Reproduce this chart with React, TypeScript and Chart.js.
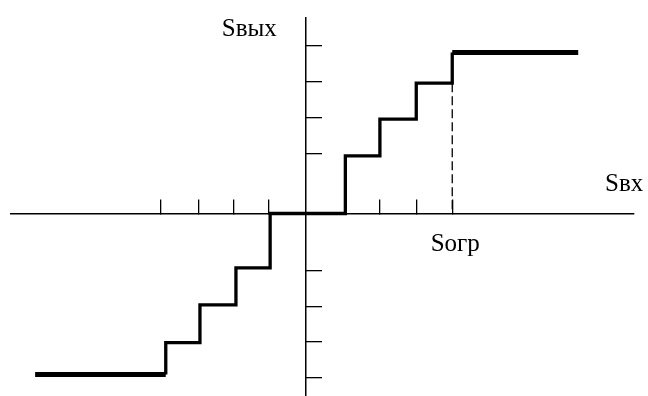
import React, { useEffect, useRef } from "react";
import { Chart, registerables } from "chart.js";

Chart.register(...registerables);

// Tick positions on the axes (in units of one quantisation step)
const xTicks = [-4.02, -2.99, -1.99, -1.02, 1.1, 2.06, 3.07, 4.07];
const yTicks = [-4.57, -3.57, -2.58, -1.6, 1.65, 2.65, 3.65, 4.65];

// Step characteristic: input values where the output jumps, and the new output level
const riseX = [-3.89, -2.94, -1.94, -0.99, 1.1, 2.06, 3.07, 4.07];
const levels = [-3.59, -2.54, -1.51, 0, 1.6, 2.62, 3.62, 4.47];

// Saturation parts
const satLow = -4.47;
const satHigh = 4.47;
const xStart = -7.52;
const xEnd = 7.57;

// Limit marker (dashed)
const limitX = 4.07;
const limitY = 3.62;

// Axis ranges
const xMin = -8.19;
const xMax = 9.12;
const yMin = -5.07;
const yMax = 5.43;

// Texts
const yTitle = "Sвых";
const xTitle = "Sвх";
const limitLabel = "Sогр";

const labelPlugin = {
  id: "axisLabels",
  afterDraw(chart: any) {
    const { ctx, chartArea, scales } = chart;
    const x0 = scales.x.getPixelForValue(0);
    const y0 = scales.y.getPixelForValue(0);
    ctx.save();
    ctx.fillStyle = "#000";
    ctx.font = "25px 'Liberation Serif', 'Times New Roman', serif";
    ctx.textBaseline = "alphabetic";
    ctx.textAlign = "right";
    ctx.fillText(yTitle, x0 - 29, chartArea.top + 18);
    ctx.textAlign = "left";
    ctx.fillText(xTitle, chartArea.right - 29, y0 - 22);
    ctx.textAlign = "center";
    ctx.fillText(limitLabel, scales.x.getPixelForValue(limitX) + 3, y0 + 38);
    ctx.restore();
  },
};

export default function App() {
  const ref = useRef<HTMLCanvasElement | null>(null);

  useEffect(() => {
    document.body.style.margin = "0";
    const canvas = ref.current;
    if (!canvas) return;

    const steps = [{ x: riseX[0], y: satLow }].concat(
      riseX.map((x, i) => ({ x, y: levels[i] }))
    );
    const lowSat = [
      { x: xStart, y: satLow },
      { x: riseX[0], y: satLow },
    ];
    const highSat = [
      { x: riseX[riseX.length - 1], y: satHigh },
      { x: xEnd, y: satHigh },
    ];
    const limitLine = [
      { x: limitX, y: limitY },
      { x: limitX, y: 0 },
    ];

    const common = {
      showLine: true,
      pointRadius: 0,
      borderColor: "#000",
      backgroundColor: "#000",
      fill: false,
      borderJoinStyle: "miter" as const,
      borderCapStyle: "butt" as const,
    };

    const chart = new Chart(canvas, {
      type: "scatter",
      data: {
        datasets: [
          { ...common, data: limitLine, borderWidth: 1.3, borderDash: [9, 4] },
          { ...common, data: steps, borderWidth: 3.3, stepped: "before" },
          { ...common, data: lowSat, borderWidth: 5 },
          { ...common, data: highSat, borderWidth: 5 },
        ],
      },
      plugins: [labelPlugin],
      options: {
        responsive: false,
        animation: false,
        devicePixelRatio: 1,
        layout: { padding: { left: 11, right: 14, top: 18, bottom: 0 } },
        plugins: {
          legend: { display: false },
          tooltip: { enabled: false },
          title: { display: false },
        },
        scales: {
          x: {
            type: "linear",
            min: xMin,
            max: xMax,
            position: { y: 0 },
            ticks: { display: false },
            grid: {
              drawOnChartArea: false,
              drawTicks: true,
              tickLength: -15,
              color: "#000",
              lineWidth: 1.3,
            },
            border: { display: true, color: "#000", width: 1.5 },
            afterBuildTicks: (s: any) => {
              s.ticks = xTicks.map((v) => ({ value: v }));
            },
          },
          y: {
            type: "linear",
            min: yMin,
            max: yMax,
            position: { x: 0 },
            ticks: { display: false },
            grid: {
              drawOnChartArea: false,
              drawTicks: true,
              tickLength: -17,
              color: "#000",
              lineWidth: 1.3,
            },
            border: { display: true, color: "#000", width: 1.5 },
            afterBuildTicks: (s: any) => {
              s.ticks = yTicks.map((v) => ({ value: v }));
            },
          },
        },
      } as any,
    });

    return () => chart.destroy();
  }, []);

  return (
    <div style={{ width: 648, height: 396, background: "#fff" }}>
      <canvas ref={ref} width={648} height={396} style={{ display: "block" }} />
    </div>
  );
}
